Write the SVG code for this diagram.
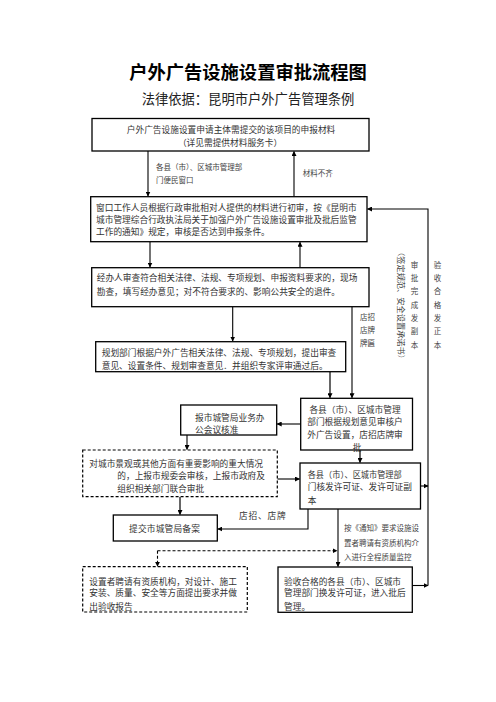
<svg xmlns="http://www.w3.org/2000/svg" width="496" height="702" viewBox="0 0 496 702">
<defs>
<marker id="ah" viewBox="0 0 10 10" refX="9" refY="5" markerWidth="5" markerHeight="5" orient="auto" markerUnits="userSpaceOnUse">
<path d="M0,0 L10,5 L0,10 z" fill="#000"/>
</marker>
<marker id="ahg" viewBox="0 0 10 10" refX="9" refY="5" markerWidth="5" markerHeight="5" orient="auto" markerUnits="userSpaceOnUse">
<path d="M0,0 L10,5 L0,10 z" fill="#000"/>
</marker>
</defs>
<style>
.box{fill:#fff;stroke:#000;stroke-width:1.3}
.dbox{fill:#fff;stroke:#000;stroke-width:1.2;stroke-dasharray:3,2}
.t{font-family:"Noto Sans CJK SC","Liberation Sans",sans-serif;font-size:8.7px;fill:#333}
.s{font-family:"Noto Sans CJK SC","Liberation Sans",sans-serif;font-size:7.5px;fill:#444}
.c{fill:none;stroke:#000;stroke-width:1.1}
.g{fill:none;stroke:#666;stroke-width:2}
.d{fill:none;stroke:#000;stroke-width:1.1;stroke-dasharray:3,2}
</style>
<rect width="496" height="702" fill="#fff"/>
<text x="248" y="79" text-anchor="middle" font-family="'Noto Sans CJK SC',sans-serif" font-size="18.3" font-weight="bold" fill="#000">户外广告设施设置审批流程图</text>
<text x="248" y="104" text-anchor="middle" font-family="'Noto Sans CJK SC',sans-serif" font-size="13.3" fill="#222">法律依据：昆明市户外广告管理条例</text>

<g id="connectors">
<path class="c" d="M148,151 V196" marker-end="url(#ah)"/>
<path class="c" d="M294,196.7 V151.5" marker-end="url(#ah)"/>
<path class="c" d="M150,241.7 V267" marker-end="url(#ah)"/>
<path class="c" d="M300,267.7 V242.2" marker-end="url(#ah)"/>
<path class="c" d="M232.7,306.7 V341" marker-end="url(#ah)"/>
<path class="c" d="M352,306.7 V397.8" marker-end="url(#ah)"/>
<path class="g" d="M330,371.7 V397.8" marker-end="url(#ahg)"/>
<path class="c" d="M300.7,424 H277.2" marker-end="url(#ah)"/>
<path class="c" d="M187,435 V449.5" marker-end="url(#ah)"/>
<path class="c" d="M277.3,479 H299.5" marker-end="url(#ah)"/>
<path class="g" d="M360,450 V462.5" marker-end="url(#ahg)"/>
<path class="g" d="M180,496.7 V514.5" marker-end="url(#ahg)"/>
<path class="c" d="M308,509 V529 H217.8" marker-end="url(#ah)"/>
<path class="c" d="M338,509 V566.5" marker-end="url(#ah)"/>
<path class="d" d="M157.5,550.7 H337" marker-end="url(#ah)"/>
<path class="d" d="M157.5,550.7 V566.2" marker-end="url(#ah)"/>
<path class="c" d="M420.5,486 H428" marker-end="url(#ah)"/>
<path class="c" d="M412.3,585.5 H428" marker-end="url(#ah)"/>
<path class="c" d="M428,585.5 V209 H367.5" marker-end="url(#ah)"/>
</g>

<g id="labels">
<text class="s" x="156" y="170" font-size="7.8">各县（市）、区城市管理部</text>
<text class="s" x="156" y="183" font-size="7.8">门便民窗口</text>
<text class="s" x="302.7" y="175.5" font-size="7">材料不齐</text>
<text class="s" x="360" y="320">店招</text>
<text class="s" x="360" y="333">店牌</text>
<text class="s" x="360" y="346">牌匾</text>
<text class="s" text-anchor="middle"><tspan x="414.5" y="267.6">审</tspan><tspan x="414.5" y="280.9">批</tspan><tspan x="414.5" y="294.2">完</tspan><tspan x="414.5" y="307.6">成</tspan><tspan x="414.5" y="320.9">发</tspan><tspan x="414.5" y="334.2">副</tspan><tspan x="414.5" y="347.6">本</tspan></text>
<text class="s" text-anchor="middle"><tspan x="437.5" y="267.6">验</tspan><tspan x="437.5" y="280.9">收</tspan><tspan x="437.5" y="294.2">合</tspan><tspan x="437.5" y="307.6">格</tspan><tspan x="437.5" y="320.9">发</tspan><tspan x="437.5" y="334.2">正</tspan><tspan x="437.5" y="347.6">本</tspan></text>
<text class="s" font-size="8.2" transform="translate(398,248) rotate(90)" x="0" y="0" textLength="115" lengthAdjust="spacingAndGlyphs">（签定规范、安全设置承诺书）</text>
<text class="t" x="239" y="519" letter-spacing="0.8">店招、店牌</text>
<text class="s" x="344" y="531">按《通知》要求设施设</text>
<text class="s" x="344" y="545.5">置者聘请有资质机构介</text>
<text class="s" x="344" y="560">入进行全程质量监控</text>
</g>

<g id="n1">
<rect class="box" x="92" y="118.5" width="277" height="32.5"/>
<text class="t" x="231" y="133.2" text-anchor="middle">户外广告设施设置申请主体需提交的该项目的申报材料</text>
<text class="t" x="230" y="145.6" text-anchor="middle">（详见需提供材料服务卡）</text>
</g>
<g id="n2">
<rect class="box" x="90.7" y="196.7" width="276.3" height="45"/>
<text class="t" x="96" y="211.3">窗口工作人员根据行政审批相对人提供的材料进行初审，按《昆明市</text>
<text class="t" x="96" y="223">城市管理综合行政执法局关于加强户外广告设施设置审批及批后监管</text>
<text class="t" x="96" y="234.7">工作的通知》规定，审核是否达到申报条件。</text>
</g>
<g id="n3">
<rect class="box" x="91.7" y="267.7" width="277.3" height="39"/>
<text class="t" x="96.7" y="281.3">经办人审查符合相关法律、法规、专项规划、申报资料要求的，现场</text>
<text class="t" x="96.7" y="295.3">勘查，填写经办意见；对不符合要求的、影响公共安全的退件。</text>
</g>
<g id="n4">
<rect class="box" x="95.7" y="341.7" width="250" height="30"/>
<text class="t" x="101.7" y="356.3">规划部门根据户外广告相关法律、法规、专项规划，提出审查</text>
<text class="t" x="101.7" y="368.7">意见、设置条件、规划审查意见．并组织专家评审通过后。</text>
</g>
<g id="n5">
<rect class="box" x="300.7" y="398.3" width="111.8" height="51.7"/>
<text class="t" x="355" y="413" text-anchor="middle">各县（市）、区城市管理</text>
<text class="t" x="355" y="425.3" text-anchor="middle">部门根据规划意见审核户</text>
<text class="t" x="355" y="438" text-anchor="middle">外广告设置，店招店牌审</text>
<text class="t" x="357" y="451.3" text-anchor="middle">批</text>
</g>
<g id="n6">
<rect class="box" x="180.7" y="405" width="96" height="30"/>
<text class="t" x="195" y="421">报市城管局业务办</text>
<text class="t" x="195" y="433">公会议核准</text>
</g>
<g id="n7">
<rect class="dbox" x="82.7" y="450" width="194.6" height="46.7"/>
<text class="t" x="89.3" y="467">对城市景观或其他方面有重要影响的重大情况</text>
<text class="t" x="117.3" y="479">的，上报市规委会审核，上报市政府及</text>
<text class="t" x="117.3" y="492">组织相关部门联合审批</text>
</g>
<g id="n8">
<rect class="box" x="300" y="463" width="120.5" height="46"/>
<text class="t" x="307.7" y="478" textLength="94" lengthAdjust="spacingAndGlyphs">各县（市）、区城市管理部</text>
<text class="t" x="307.7" y="490">门核发许可证、发许可证副</text>
<text class="t" x="307.7" y="503.7">本</text>
</g>
<g id="n9">
<rect class="box" x="113.3" y="515" width="104" height="26"/>
<text class="t" x="129" y="532" letter-spacing="0.2">提交市城管局备案</text>
</g>
<g id="n10">
<rect class="dbox" x="82.7" y="566.7" width="164.6" height="45.3"/>
<text class="t" x="89.3" y="584.7">设置者聘请有资质机构，对设计、施工</text>
<text class="t" x="89.3" y="596.3">安装、质量、安全等方面提出要求并做</text>
<text class="t" x="89.3" y="609.7">出验收报告</text>
</g>
<g id="n11">
<rect class="box" x="278" y="567" width="134.3" height="45.3"/>
<text class="t" x="284" y="584.7" textLength="117" lengthAdjust="spacingAndGlyphs">验收合格的各县（市）、区城市</text>
<text class="t" x="284" y="596.3">管理部门换发许可证，进入批后</text>
<text class="t" x="284" y="609.7">管理。</text>
</g>
</svg>
